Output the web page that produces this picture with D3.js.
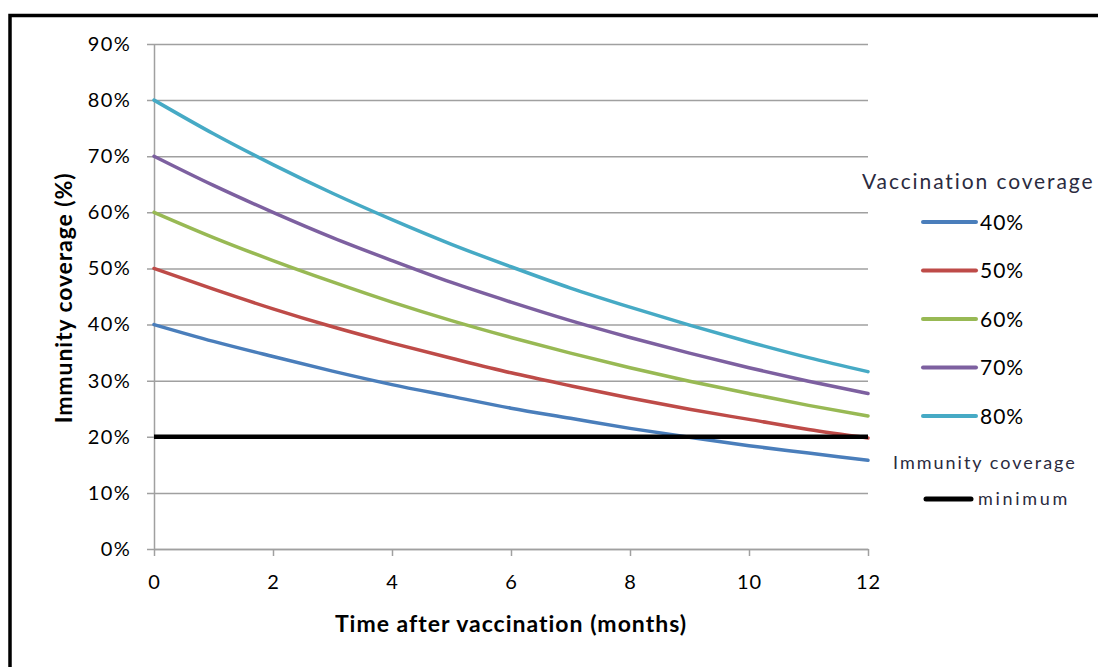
<!DOCTYPE html>
<html>
<head>
<meta charset="utf-8">
<script src="https://cdn.jsdelivr.net/npm/d3@7"></script>
<style>
  body { margin: 0; background: #fff; }
  text { font-family: Lato, "Open Sans", sans-serif; }
</style>
</head>
<body>
<script>
// months after vaccination
var months = [0, 1, 2, 3, 4, 5, 6, 7, 8, 9, 10, 11, 12];
var seriesNames = ['40%', '50%', '60%', '70%', '80%'];
// immunity coverage (%), one array per vaccination coverage
var cov40 = [40, 37.0, 34.3, 31.7, 29.3, 27.2, 25.1, 23.3, 21.5, 19.9, 18.4, 17.1, 15.8];
var cov50 = [50, 46.3, 42.8, 39.6, 36.7, 34.0, 31.4, 29.1, 26.9, 24.9, 23.1, 21.3, 19.8];
var cov60 = [60, 55.5, 51.4, 47.6, 44.0, 40.7, 37.7, 34.9, 32.3, 29.9, 27.7, 25.6, 23.7];
var cov70 = [70, 64.8, 60.0, 55.5, 51.4, 47.5, 44.0, 40.7, 37.7, 34.9, 32.3, 29.9, 27.7];
var cov80 = [80, 74.0, 68.5, 63.4, 58.7, 54.3, 50.3, 46.5, 43.1, 39.9, 36.9, 34.1, 31.6];
var minimum = 20;
var yTicks = [0, 10, 20, 30, 40, 50, 60, 70, 80, 90];
var xTicks = [0, 2, 4, 6, 8, 10, 12];
var colors = ['#4a7ebb', '#be4b48', '#98b954', '#7d60a0', '#46aac5'];

var series = [cov40, cov50, cov60, cov70, cov80];

var W = 1098, H = 667;
var margin = {top: 44, left: 154, right: 230, bottom: 118};
var w = W - margin.left - margin.right,
    h = H - margin.top - margin.bottom;

var svg = d3.select("body").append("svg")
    .attr("width", W)
    .attr("height", H);

// outer frame (cut off at right and bottom)
svg.append("path")
  .attr("d", "M10," + H + " V15.5 H" + W)
  .attr("fill", "none")
  .attr("stroke", "#000")
  .attr("stroke-width", 3.5);

var g = svg.append("g")
  .attr("transform", "translate(" + margin.left + "," + margin.top + ")");

var x = d3.scaleLinear().domain([0, 12]).range([0, w]);
var y = d3.scaleLinear().domain([0, 90]).range([h, 0]);

// gridlines + y axis
var yAxis = g.append("g")
  .call(d3.axisLeft(y).tickValues(yTicks).tickSize(-w).tickSizeOuter(0)
    .tickFormat(function(d) { return d + "%"; }));
yAxis.select(".domain").attr("stroke", "#a0a0a0").attr("stroke-width", 1.5);
yAxis.selectAll(".tick line").attr("stroke", "#a0a0a0").attr("stroke-width", 1.5)
  .attr("x1", -7);
yAxis.selectAll(".tick text").attr("font-size", 20).attr("fill", "#000")
  .attr("letter-spacing", 1.3).attr("x", -23);

var xAxis = g.append("g")
  .attr("transform", "translate(0," + h + ")")
  .call(d3.axisBottom(x).tickValues(xTicks).tickSize(7).tickSizeOuter(0).tickPadding(19));
xAxis.select(".domain").attr("stroke", "#a0a0a0").attr("stroke-width", 1.5);
xAxis.selectAll(".tick line").attr("stroke", "#a0a0a0").attr("stroke-width", 1.5);
xAxis.selectAll(".tick text").attr("font-size", 20).attr("fill", "#000")
  .attr("letter-spacing", 1);

// series lines
var line = d3.line()
  .x(function(d, i) { return x(months[i]); })
  .y(function(d) { return y(d); })
  .curve(d3.curveMonotoneX);

g.selectAll("path.series")
  .data(series)
  .enter().append("path")
  .attr("class", "series")
  .attr("d", line)
  .attr("fill", "none")
  .attr("stroke", function(d, i) { return colors[i]; })
  .attr("stroke-width", 3.5)
  .attr("stroke-linecap", "round");

// minimum line
g.append("line")
  .attr("x1", x(0)).attr("x2", x(12))
  .attr("y1", y(minimum)).attr("y2", y(minimum))
  .attr("stroke", "#000")
  .attr("stroke-width", 4.5);

// axis titles
svg.append("text")
  .attr("x", margin.left + w / 2)
  .attr("y", 632)
  .attr("text-anchor", "middle")
  .attr("font-size", 23)
  .attr("font-weight", "bold")
  .attr("letter-spacing", 1)
  .text("Time after vaccination (months)");

svg.append("text")
  .attr("transform", "translate(72,298) rotate(-90)")
  .attr("text-anchor", "middle")
  .attr("font-size", 23)
  .attr("font-weight", "bold")
  .attr("letter-spacing", 0.9)
  .text("Immunity coverage (%)");

// legend
var legend = svg.append("g");
legend.append("text")
  .attr("x", 862).attr("y", 189)
  .attr("font-size", 21).attr("fill", "#2b2b40")
  .attr("letter-spacing", 1.9)
  .text("Vaccination coverage");

var items = legend.selectAll("g.item")
  .data(seriesNames)
  .enter().append("g")
  .attr("class", "item")
  .attr("transform", function(d, i) { return "translate(0," + (222 + i * 48.5) + ")"; });
items.append("line")
  .attr("x1", 923).attr("x2", 976)
  .attr("stroke", function(d, i) { return colors[i]; })
  .attr("stroke-width", 4)
  .attr("stroke-linecap", "round");
items.append("text")
  .attr("x", 980).attr("y", 7.5)
  .attr("font-size", 21).attr("fill", "#000")
  .attr("letter-spacing", 1)
  .text(function(d) { return d; });

legend.append("text")
  .attr("x", 893).attr("y", 469)
  .attr("font-size", 18).attr("fill", "#2b2b40")
  .attr("letter-spacing", 2)
  .text("Immunity coverage");
legend.append("line")
  .attr("x1", 926).attr("x2", 971)
  .attr("y1", 499).attr("y2", 499)
  .attr("stroke", "#000")
  .attr("stroke-width", 5)
  .attr("stroke-linecap", "round");
legend.append("text")
  .attr("x", 978).attr("y", 505)
  .attr("font-size", 18).attr("fill", "#2b2b40")
  .attr("letter-spacing", 2.7)
  .text("minimum");
</script>
</body>
</html>
